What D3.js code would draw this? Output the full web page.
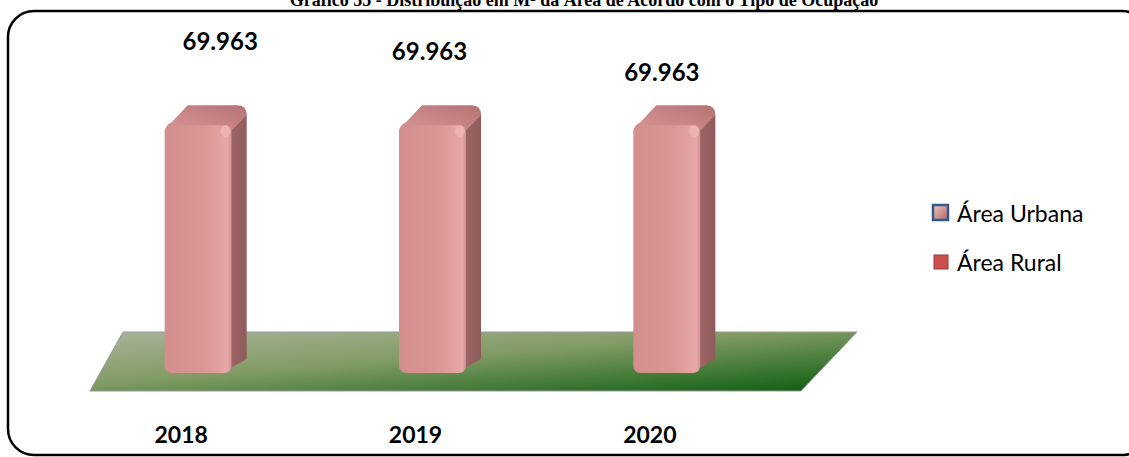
<!DOCTYPE html>
<html><head><meta charset="utf-8">
<script src="https://cdn.jsdelivr.net/npm/d3@7"></script>
<style>body{margin:0;background:#fff}svg{display:block}</style>
</head><body>
<script>
const years = ["2018", "2019", "2020"];
const areaRural = [69963, 69963, 69963];
const areaUrbana = [0, 0, 0];
const valueLabels = ["69.963", "69.963", "69.963"];
const seriesNames = ["Área Urbana", "Área Rural"];
const titleText = "Gráfico 55 - Distribuição em M² da Área de Acordo com o Tipo de Ocupação";

const W = 1129, H = 457;
const svg = d3.select("body").append("svg").attr("width", W).attr("height", H);
const defs = svg.append("defs");

// frame
svg.append("rect").attr("x", 8).attr("y", 11).attr("width", 1140).attr("height", 444)
  .attr("rx", 26).attr("fill", "none").attr("stroke", "#000").attr("stroke-width", 2.5);

// title (mostly clipped at top, as in the source)
svg.append("text").attr("x", 584).attr("y", 6).attr("text-anchor", "middle")
  .attr("font-family", "Liberation Serif, Times New Roman, serif").attr("font-weight", "bold")
  .attr("font-size", 18).text(titleText);

// scales
const x = d3.scalePoint().domain(years).range([81, 784]).padding(0.5);
const y = d3.scaleLinear().domain([0, 70000]).range([373, 125]);
const barW = 67, dx = 15, dy = -20, r = 7;

// floor
const fg = defs.append("linearGradient").attr("id", "floorG")
  .attr("x1", "0").attr("y1", "0").attr("x2", "1").attr("y2", "1");
fg.append("stop").attr("offset", "0%").attr("stop-color", "#a9b39c");
fg.append("stop").attr("offset", "45%").attr("stop-color", "#809b62");
fg.append("stop").attr("offset", "100%").attr("stop-color", "#0a5c0e");
const floorTop = 332, floorBot = 391;
svg.append("path")
  .attr("d", `M90,${floorBot} L123,${floorTop} L857,${floorTop} L801,${floorBot} Z`)
  .attr("fill", "url(#floorG)").attr("stroke", "#9a9a9a").attr("stroke-width", 1);

// bar gradients
const frontG = defs.append("linearGradient").attr("id", "frontG");
[["0%", "#d38e8d"], ["60%", "#da9796"], ["86%", "#e4a4a3"], ["95%", "#e6a8a7"], ["100%", "#cc8a89"]]
  .forEach(([o, c]) => frontG.append("stop").attr("offset", o).attr("stop-color", c));
const sideG = defs.append("linearGradient").attr("id", "sideG");
[["0%", "#a26969"], ["100%", "#8f5b5b"]]
  .forEach(([o, c]) => sideG.append("stop").attr("offset", o).attr("stop-color", c));
const topG = defs.append("linearGradient").attr("id", "topG").attr("x1", "0").attr("y1", "1").attr("x2", "1").attr("y2", "0");
[["0%", "#d89696"], ["50%", "#c98585"], ["100%", "#b37272"]]
  .forEach(([o, c]) => topG.append("stop").attr("offset", o).attr("stop-color", c));

const data = years.map((yr, i) => ({ yr, v: areaRural[i], u: areaUrbana[i], lab: valueLabels[i] }));
const bars = svg.append("g").selectAll("g").data(data).join("g");

bars.each(function (d) {
  const g = d3.select(this);
  const x0 = x(d.yr) - barW / 2, x1 = x(d.yr) + barW / 2;
  const yT = y(d.v), yB = y(0);
  // side face
  g.append("path")
    .attr("d", `M${x1 - 6},${yT + 4} L${x1 + dx - r},${yT + dy + 2} Q${x1 + dx},${yT + dy + 2} ${x1 + dx},${yT + dy + r + 4}
      L${x1 + dx},${yB + dy + 6} L${x1 - 6},${yB - 2} Z`)
    .attr("fill", "url(#sideG)");
  // top face
  g.append("path")
    .attr("d", `M${x0},${yT + r} Q${x0},${yT} ${x0 + r},${yT - 3}
      L${x0 + dx + 8},${yT + dy} L${x1 + dx - r - 2},${yT + dy}
      Q${x1 + dx},${yT + dy} ${x1 + dx},${yT + dy + r + 3}
      L${x1},${yT + 5} Z`)
    .attr("fill", "url(#topG)");
  // front face
  g.append("rect").attr("x", x0).attr("y", yT).attr("width", barW).attr("height", yB - yT)
    .attr("rx", r).attr("fill", "url(#frontG)");
  // highlight near top-right corner of front face
  g.append("ellipse").attr("cx", x1 - 6).attr("cy", yT + 6).attr("rx", 5).attr("ry", 6)
    .attr("fill", "#efb9b8").attr("opacity", 0.7);
});

// value labels (manual placement offsets relative to each bar)
const labelDx = [22, -3, -5], labelDy = [-85, -75, -54];
svg.append("g").selectAll("text").data(data).join("text")
  .attr("x", (d, i) => x(d.yr) + labelDx[i])
  .attr("y", (d, i) => y(d.v) + labelDy[i])
  .attr("text-anchor", "middle").attr("dominant-baseline", "central")
  .attr("font-family", "Lato, sans-serif").attr("font-weight", "bold").attr("font-size", 24)
  .text(d => d.lab);

// category labels
svg.append("g").selectAll("text").data(years).join("text")
  .attr("x", d => x(d) - 17).attr("y", 434)
  .attr("text-anchor", "middle").attr("dominant-baseline", "central")
  .attr("font-family", "Lato, sans-serif").attr("font-weight", "bold").attr("font-size", 23)
  .text(d => d);

// legend
const lg = svg.append("g");
const lUG = defs.append("linearGradient").attr("id", "lU").attr("x1", "0").attr("y1", "0").attr("x2", "1").attr("y2", "1");
lUG.append("stop").attr("offset", "0%").attr("stop-color", "#f3c4c4");
lUG.append("stop").attr("offset", "100%").attr("stop-color", "#b06868");
const legY = [213, 262];
seriesNames.forEach((name, i) => {
  if (i === 0) {
    lg.append("rect").attr("x", 933).attr("y", legY[i] - 8).attr("width", 15).attr("height", 15)
      .attr("fill", "url(#lU)").attr("stroke", "#2f5a8a").attr("stroke-width", 2.5);
  } else {
    lg.append("rect").attr("x", 934).attr("y", legY[i] - 7).attr("width", 14).attr("height", 14)
      .attr("fill", "#c9504d").attr("stroke", "#9b3b39").attr("stroke-width", 1);
  }
  lg.append("text").attr("x", 957).attr("y", legY[i]).attr("dominant-baseline", "central")
    .attr("font-family", "Lato, sans-serif").attr("font-size", 23).attr("fill", "#000").text(name);
});
</script>
</body></html>
